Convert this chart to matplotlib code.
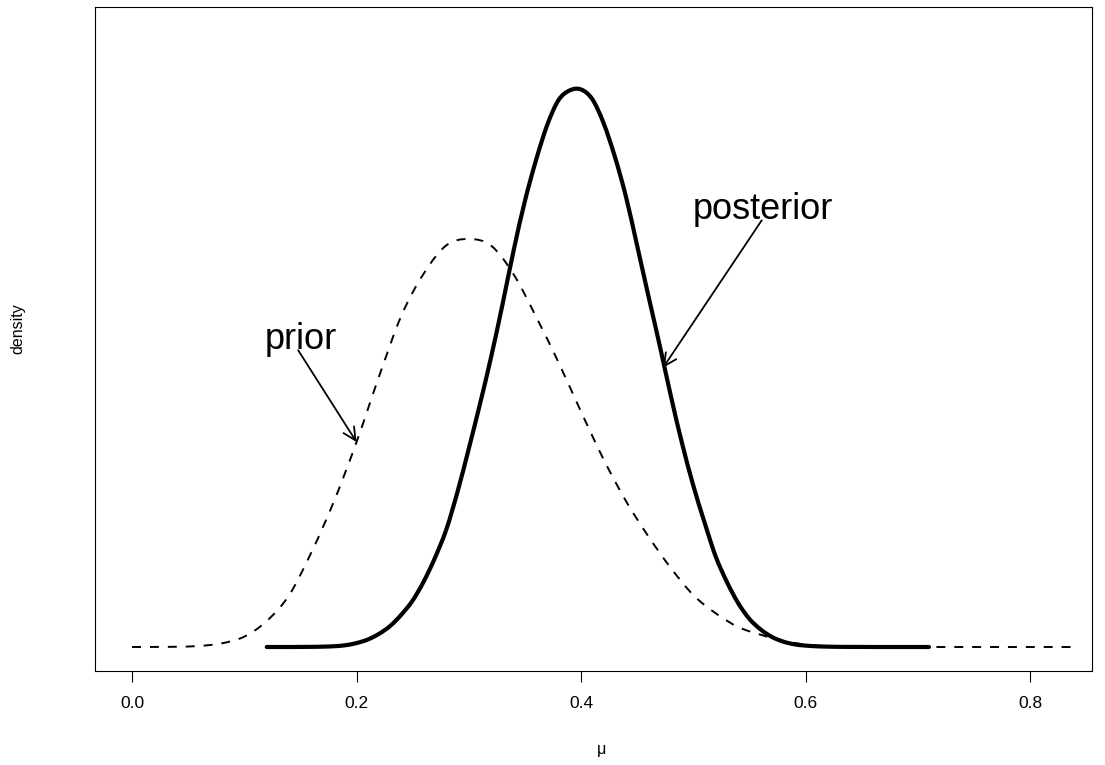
import matplotlib
matplotlib.use("Agg")
import matplotlib.pyplot as plt
from matplotlib.path import Path
from matplotlib.patches import PathPatch
import numpy as np

plt.rcParams['font.family'] = ['Liberation Sans', 'DejaVu Sans']

# prior density
prior_mu = [0.00, 0.02, 0.04, 0.06, 0.08, 0.10, 0.12, 0.14, 0.16, 0.18,
            0.20, 0.22, 0.24, 0.26, 0.28, 0.30, 0.32, 0.34, 0.36, 0.38,
            0.40, 0.42, 0.44, 0.46, 0.48, 0.50, 0.52, 0.54, 0.56, 0.58,
            0.60, 0.62, 0.64, 0.66, 0.68, 0.70, 0.72, 0.74, 0.76, 0.78,
            0.80, 0.82, 0.84]
prior_dens = [0.000, 0.001, 0.003, 0.012, 0.042, 0.118, 0.296, 0.592, 1.085, 1.663,
              2.335, 3.080, 3.776, 4.256, 4.575, 4.647, 4.570, 4.243, 3.760, 3.240,
              2.680, 2.140, 1.663, 1.260, 0.900, 0.592, 0.384, 0.228, 0.140, 0.070,
              0.028, 0.010, 0.004, 0.0015, 0.0005, 0.0, 0.0, 0.0, 0.0, 0.0,
              0.0, 0.0, 0.0]

# posterior density
post_mu = [0.12, 0.13, 0.14, 0.15, 0.16, 0.17, 0.18, 0.19, 0.20, 0.21,
           0.22, 0.23, 0.24, 0.25, 0.26, 0.27, 0.28, 0.29, 0.30, 0.31,
           0.32, 0.33, 0.34, 0.35, 0.36, 0.37, 0.38, 0.39, 0.40, 0.41,
           0.42, 0.43, 0.44, 0.45, 0.46, 0.47, 0.48, 0.49, 0.50, 0.51,
           0.52, 0.53, 0.54, 0.55, 0.56, 0.57, 0.58, 0.59, 0.60, 0.61,
           0.62, 0.63, 0.64, 0.65, 0.66, 0.67, 0.68, 0.69, 0.70, 0.71]
post_dens = [0.000, 0.000, 0.000, 0.001, 0.002, 0.004, 0.009, 0.020, 0.045, 0.085,
             0.150, 0.240, 0.370, 0.530, 0.750, 1.020, 1.340, 1.770, 2.260, 2.770,
             3.310, 3.900, 4.520, 5.080, 5.550, 5.950, 6.230, 6.340, 6.350, 6.240,
             5.970, 5.590, 5.130, 4.570, 4.000, 3.440, 2.860, 2.320, 1.840, 1.420,
             1.030, 0.740, 0.500, 0.320, 0.200, 0.115, 0.062, 0.031, 0.016, 0.008,
             0.004, 0.002, 0.001, 0.001, 0.000, 0.000, 0.000, 0.000, 0.000, 0.000]

x_ticks = [0.0, 0.2, 0.4, 0.6, 0.8]
x_tick_labels = ['0.0', '0.2', '0.4', '0.6', '0.8']


def smooth_path(xs, ys):
    # bezier path through the read points (catmull-rom tangents)
    pts = np.column_stack([xs, ys])
    n = len(pts)
    verts = [pts[0]]
    codes = [Path.MOVETO]
    for i in range(n - 1):
        p0 = pts[max(i - 1, 0)]
        p1 = pts[i]
        p2 = pts[i + 1]
        p3 = pts[min(i + 2, n - 1)]
        verts += [p1 + (p2 - p0) / 6, p2 - (p3 - p1) / 6, p2]
        codes += [Path.CURVE4] * 3
    return Path(verts, codes)


fig = plt.figure(figsize=(11.05, 7.65), dpi=100)
ax = fig.add_axes([0.086, 0.1229, 0.9022, 0.8679])

ax.add_patch(PathPatch(smooth_path(prior_mu, prior_dens), facecolor='none',
                       edgecolor='black', lw=1.4, linestyle=(0, (4.6, 4.6)),
                       capstyle='butt'))
ax.add_patch(PathPatch(smooth_path(post_mu, post_dens), facecolor='none',
                       edgecolor='black', lw=3.0, capstyle='round',
                       joinstyle='round'))

# labels with arrows
arrow = dict(arrowstyle='->,head_length=0.9,head_width=0.45', color='black',
             lw=1.3, shrinkA=0, shrinkB=0)
ax.text(0.15, 3.5, 'prior', fontsize=26, ha='center', va='center')
ax.annotate('', xy=(prior_mu[10], prior_dens[10]), xytext=(0.148, 3.38),
            arrowprops=arrow)
ax.text(0.562, 4.98, 'posterior', fontsize=26, ha='center', va='center')
ax.annotate('', xy=(0.473, 3.18), xytext=(0.561, 4.86), arrowprops=arrow)

ax.set_xlim(-0.033, 0.8552)
ax.set_ylim(-0.273, 7.289)
ax.set_xticks(x_ticks)
ax.set_xticklabels(x_tick_labels, fontsize=12.5)
ax.set_yticks([])
ax.tick_params(axis='x', direction='out', length=8, width=0.8, pad=10)
for sp in ax.spines.values():
    sp.set_linewidth(0.8)

ax.set_xlabel('μ', fontsize=11.5)
ax.xaxis.set_label_coords(0.5085, -0.107)
ax.set_ylabel('density', fontsize=11.5)
ax.yaxis.set_label_coords(-0.070, 0.515)

plt.savefig('out.png', dpi=100)
